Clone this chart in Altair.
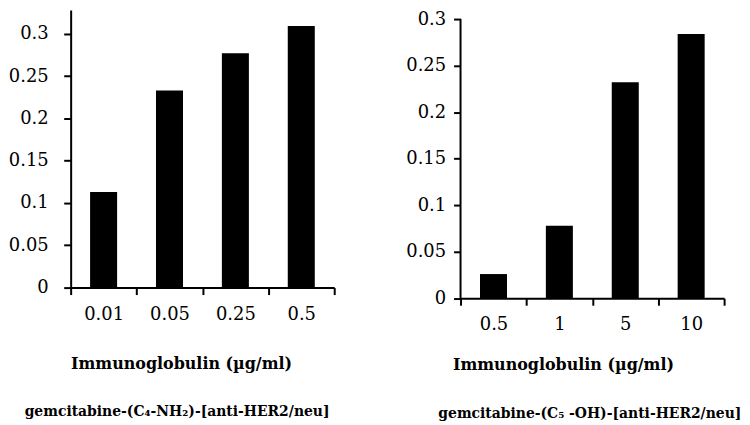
import altair as alt
import pandas as pd

# ---- data ----
left_conc = ["0.01", "0.05", "0.25", "0.5"]
left_vals = [0.113, 0.233, 0.277, 0.309]
right_conc = ["0.5", "1", "5", "10"]
right_vals = [0.026, 0.078, 0.232, 0.284]
y_ticks = [0, 0.05, 0.1, 0.15, 0.2, 0.25, 0.3]
x_title = "Immunoglobulin (µg/ml)"
left_label = "gemcitabine-(C₄-NH₂)-[anti-HER2/neu]"
right_label = "gemcitabine-(C₅ -OH)-[anti-HER2/neu]"

FONT = "DejaVu Serif"


def panel(conc, vals, label, height, ymax, ylab_pad, xlab_pad,
          title_x, title_y, sub_x, sub_y, custom_yline):
    df = pd.DataFrame({"conc": conc, "val": vals})
    y_axis = alt.Axis(
        title=None, values=y_ticks, format="~g", grid=False,
        labelFont=FONT, labelFontSize=18, labelColor="black",
        labelPadding=ylab_pad, tickSize=7, tickWidth=2,
        tickColor="black", domain=not custom_yline,
        domainColor="black", domainWidth=2,
    )
    y_scale = alt.Scale(domain=[0, ymax], nice=False, zero=True)
    bars = alt.Chart(df).mark_bar(
        color="black", width=alt.RelativeBandSize(0.41)
    ).encode(
        x=alt.X(
            "conc:N", sort=conc,
            scale=alt.Scale(paddingInner=0, paddingOuter=0),
            axis=alt.Axis(
                title=x_title, labelAngle=0, tickBand="extent",
                labelFont=FONT, labelFontSize=18, labelColor="black",
                labelPadding=xlab_pad, tickSize=7, tickWidth=2,
                tickColor="black", domainColor="black", domainWidth=2,
                titleFont=FONT, titleFontSize=16, titleFontWeight="bold",
                titleColor="black", titleX=title_x, titleY=title_y,
                titleBaseline="alphabetic", titleAlign="center",
            ),
        ),
        y=alt.Y("val:Q", scale=y_scale, axis=y_axis),
    )
    sub = alt.Chart(pd.DataFrame({"t": [label]})).mark_text(
        font=FONT, fontSize=14, fontWeight="bold", color="black",
        align="center", baseline="alphabetic",
    ).encode(x=alt.value(sub_x), y=alt.value(sub_y), text="t:N")
    layers = [bars, sub]
    if custom_yline:
        yline = alt.Chart(pd.DataFrame({"val": [0.0], "val2": [0.3]})).mark_rule(
            color="black", strokeWidth=2
        ).encode(x=alt.value(0), y=alt.Y("val:Q", scale=y_scale, axis=y_axis),
                 y2="val2:Q")
        layers.append(yline)
    return alt.layer(*layers).properties(width=265, height=height)


left = panel(left_conc, left_vals, left_label, 279, 0.3279, 15.6, 11,
             111, 81, 107, 408, False)
right = panel(right_conc, right_vals, right_label, 289.7, 0.3096, 8, 10,
              103, 72, 130, 410, True)

chart = alt.hconcat(left, right, spacing=70).properties(
    padding={"left": 0, "top": 0, "right": 0, "bottom": 0},
    background="white",
).configure_view(stroke=None)

chart.save("out.html", embed_options={"renderer": "svg", "actions": False})
